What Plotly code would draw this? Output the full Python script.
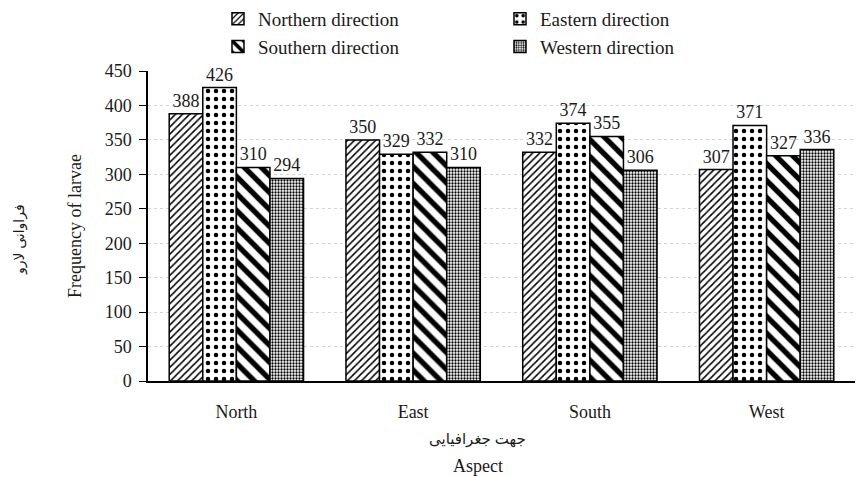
import plotly.graph_objects as go

# Larvae counts per aspect, split by sampling direction on the tree
aspects = ["North", "East", "South", "West"]
northern = [388, 350, 332, 307]
eastern = [426, 329, 374, 371]
southern = [310, 332, 355, 327]
western = [294, 310, 306, 336]

series = [
    ("Northern direction", northern, dict(shape="/", size=5, solidity=0.3)),
    ("Eastern direction", eastern, dict(shape=".", size=8, solidity=0.25)),
    ("Southern direction", southern, dict(shape="\\", size=12, solidity=0.45)),
    ("Western direction", western, dict(shape=".", size=3, solidity=0.45)),
]

FONT = "Liberation Serif"
PERSIAN = "Noto Sans, DejaVu Sans"
INK = "#1a1a1a"

fig = go.Figure()
for name, vals, pat in series:
    fig.add_trace(go.Bar(
        name=name,
        x=aspects,
        y=vals,
        text=[str(v) for v in vals],
        textposition="outside",
        textangle=0,
        constraintext="none",
        cliponaxis=False,
        textfont=dict(family=FONT, size=18, color=INK),
        marker=dict(
            color="white",
            line=dict(color="black", width=1.5),
            pattern=dict(fgcolor="black", bgcolor="white", fgopacity=1,
                         fillmode="overlay", **pat),
        ),
    ))

PLOT_L, PLOT_R, PLOT_T, PLOT_B = 148, 2, 71, 96
PLOT_W = 857 - PLOT_L - PLOT_R
PLOT_H = 477 - PLOT_T - PLOT_B

fig.update_layout(
    width=857,
    height=477,
    margin=dict(l=PLOT_L, r=PLOT_R, t=PLOT_T, b=PLOT_B, autoexpand=False),
    paper_bgcolor="white",
    plot_bgcolor="white",
    barmode="group",
    bargap=0.24,
    bargroupgap=0,
    font=dict(family=FONT, size=18, color=INK),
    showlegend=True,
    legend=dict(
        orientation="h",
        x=0.099, xref="paper", xanchor="left",
        y=1.0, yref="container", yanchor="top",
        entrywidth=237, entrywidthmode="pixels",
        font=dict(family=FONT, size=19, color=INK),
        itemwidth=30,
        tracegroupgap=0,
        bgcolor="rgba(0,0,0,0)",
    ),
    xaxis=dict(
        showline=True, linecolor="black", linewidth=1.5,
        ticks="", tickfont=dict(family=FONT, size=18),
        ticklabelstandoff=14,
        showgrid=False, automargin=False,
    ),
    yaxis=dict(
        range=[0, 450], dtick=50,
        showline=True, linecolor="black", linewidth=1.5,
        ticks="outside", ticklen=7, tickcolor="black",
        ticklabelstandoff=4,
        showgrid=True, gridcolor="#d4d4d4", gridwidth=1, griddash="dot",
        tickfont=dict(family=FONT, size=18),
        zeroline=False, automargin=False,
    ),
)


def px_x(px):
    """Convert a page x pixel position to paper coordinates."""
    return (px - PLOT_L) / PLOT_W


def px_y(py):
    """Convert a page y pixel position to paper coordinates."""
    return (PLOT_T + PLOT_H - py) / PLOT_H


# Axis titles, in Persian and English
fig.add_annotation(text="جهت جغرافیایی", x=px_x(477), y=px_y(438), xref="paper", yref="paper",
                   showarrow=False, xanchor="center", yanchor="middle",
                   font=dict(family=PERSIAN, size=15, color=INK))
fig.add_annotation(text="Aspect", x=px_x(478), y=px_y(466), xref="paper", yref="paper",
                   showarrow=False, xanchor="center", yanchor="middle",
                   font=dict(family=FONT, size=18, color=INK))
fig.add_annotation(text="Frequency of larvae", x=px_x(75), y=0.5, xref="paper", yref="paper",
                   showarrow=False, textangle=-90, xanchor="center", yanchor="middle",
                   font=dict(family=FONT, size=18, color=INK))
fig.add_annotation(text="فراوانی لارو", x=px_x(18), y=px_y(240), xref="paper", yref="paper",
                   showarrow=False, textangle=-90, xanchor="center", yanchor="middle",
                   font=dict(family=PERSIAN, size=14, color=INK))

fig.write_html("out.html")
